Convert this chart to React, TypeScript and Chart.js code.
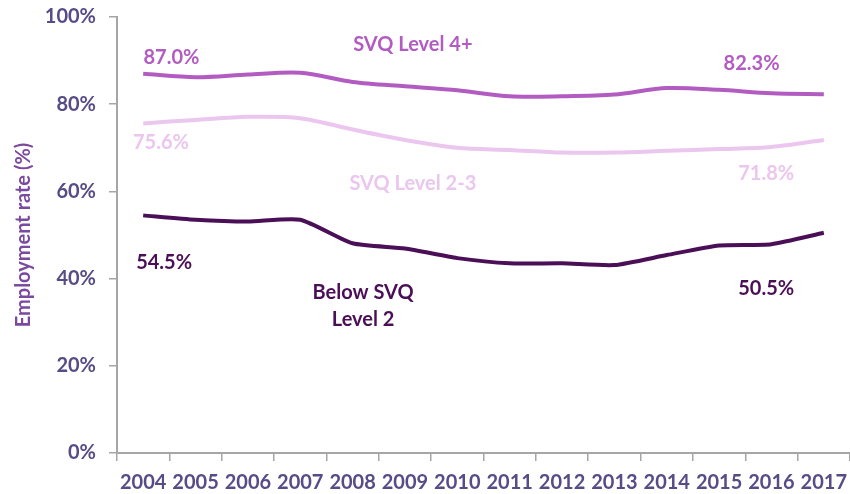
import React, { useEffect, useRef } from "react";
import { Chart, registerables } from "chart.js";

Chart.register(...registerables);

const years = ["2004", "2005", "2006", "2007", "2008", "2009", "2010", "2011", "2012", "2013", "2014", "2015", "2016", "2017"];
const level4Plus = [87.0, 86.2, 86.8, 87.2, 85.1, 84.1, 83.2, 81.8, 81.8, 82.2, 83.7, 83.3, 82.5, 82.3];
const level2to3 = [75.6, 76.4, 77.1, 76.8, 74.2, 71.8, 70.0, 69.5, 68.9, 68.9, 69.3, 69.7, 70.2, 71.8];
const belowLevel2 = [54.5, 53.5, 53.1, 53.5, 48.1, 46.9, 44.7, 43.5, 43.5, 43.1, 45.4, 47.6, 47.9, 50.5];
const yTicks = [0, 20, 40, 60, 80, 100];

const C4 = "#b25cc2";
const C23 = "#ebc6ee";
const CB = "#4a0f56";
const TICK = "#584c86";
const FONT = "Lato, 'Open Sans', sans-serif";

// text annotations: [text, category position, value position, color]
const notes: [string, number, number, string][] = [
  ["87.0%", 0.54, 90.6, C4],
  ["SVQ Level 4+", 5.15, 93.6, C4],
  ["82.3%", 11.62, 89.4, C4],
  ["75.6%", 0.34, 71.1, C23],
  ["SVQ Level 2-3", 5.15, 61.9, C23],
  ["71.8%", 11.9, 64.2, C23],
  ["54.5%", 0.4, 43.6, CB],
  ["Below SVQ", 4.2, 36.9, CB],
  ["Level 2", 4.2, 30.5, CB],
  ["50.5%", 11.9, 37.8, CB],
];

const notesPlugin = {
  id: "notes",
  afterDatasetsDraw(chart: any) {
    const ctx = chart.ctx;
    const xs = chart.scales.x;
    const ys = chart.scales.y;
    ctx.save();
    ctx.font = `bold 20px ${FONT}`;
    ctx.textAlign = "center";
    ctx.textBaseline = "middle";
    for (const [t, xi, yv, col] of notes) {
      const x0 = xs.getPixelForValue(Math.floor(xi));
      const x1 = xs.getPixelForValue(Math.floor(xi) + 1);
      const x = x0 + (x1 - x0) * (xi - Math.floor(xi));
      ctx.fillStyle = col;
      ctx.fillText(t, x, ys.getPixelForValue(yv));
    }
    ctx.restore();
  },
};

export default function App() {
  const ref = useRef<HTMLCanvasElement>(null);
  useEffect(() => {
    const tickFont = { family: FONT, size: 20, weight: "bold" as const };
    const chart = new Chart(ref.current!, {
      type: "line",
      data: {
        labels: years,
        datasets: [
          { label: "SVQ Level 4+", data: level4Plus, borderColor: C4, borderWidth: 4, pointRadius: 0, tension: 0.3 },
          { label: "SVQ Level 2-3", data: level2to3, borderColor: C23, borderWidth: 4, pointRadius: 0, tension: 0.3 },
          { label: "Below SVQ Level 2", data: belowLevel2, borderColor: CB, borderWidth: 4, pointRadius: 0, tension: 0.2 },
        ],
      },
      options: {
        animation: false,
        responsive: false,
        layout: { padding: { top: 17, left: 0, right: -2, bottom: 0 } },
        plugins: { legend: { display: false }, tooltip: { enabled: false } },
        scales: {
          x: {
            offset: true,
            grid: { offset: true, drawOnChartArea: false, tickLength: 8, color: "#a6a6a6", lineWidth: 1.5 },
            border: { color: "#a6a6a6", width: 2 },
            ticks: { font: tickFont, color: TICK, padding: 10, maxRotation: 0, autoSkip: false },
            afterFit: (s: any) => { s.height = 41; s.paddingLeft = 0; s.paddingRight = 0; },
          },
          y: {
            min: 0,
            max: 100,
            afterBuildTicks: (s: any) => { s.ticks = yTicks.map((v) => ({ value: v })); },
            grid: { drawOnChartArea: false, tickLength: 8, color: "#a6a6a6", lineWidth: 1.5 },
            border: { color: "#a6a6a6", width: 2 },
            ticks: { font: tickFont, color: TICK, padding: 13, callback: (v: any) => v + "%" },
            title: { display: true, text: "Employment rate (%)", color: "#7b4aa0", font: { family: FONT, size: 20, weight: "bold" }, padding: { top: 12, bottom: 0 } },
            afterFit: (s: any) => { s.width = 117; s.paddingTop = 0; s.paddingBottom = 0; },
          },
        },
      },
      plugins: [notesPlugin],
    });
    return () => chart.destroy();
  }, []);
  return (
    <div style={{ position: "fixed", left: 0, top: 0, width: 850, height: 494, background: "#fff" }}>
      <canvas ref={ref} width={850} height={494} style={{ width: 850, height: 494 }} />
    </div>
  );
}
